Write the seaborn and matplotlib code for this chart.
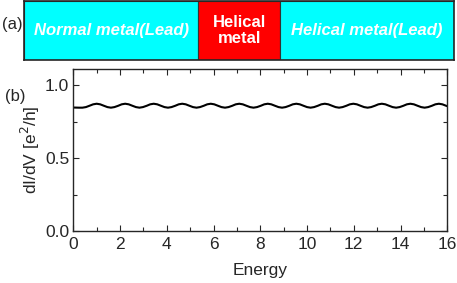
import matplotlib
matplotlib.use("Agg")
import matplotlib.pyplot as plt
import seaborn as sns
from matplotlib.patches import Rectangle
from matplotlib.ticker import MultipleLocator

sns.set_style("ticks")
plt.rcParams['font.family'] = ['Liberation Sans', 'DejaVu Sans']

# top schematic: region labels
regions = ["Normal metal(Lead)", "Helical\nmetal", "Helical metal(Lead)"]
region_colors = ["#00ffff", "#ff0000", "#00ffff"]
region_bounds = [0.0, 0.405, 0.596, 1.0]

# dI/dV vs energy
energy = [0.00, 0.24, 0.39, 0.54, 0.69, 0.85,
          1.00, 1.15, 1.31, 1.46, 1.61, 1.76, 1.92, 2.07,
          2.22, 2.37, 2.53, 2.68, 2.83, 2.98, 3.14, 3.29,
          3.44, 3.59, 3.75, 3.90, 4.05, 4.20, 4.36, 4.51,
          4.66, 4.81, 4.97, 5.12, 5.27, 5.42, 5.58, 5.73,
          5.88, 6.03, 6.19, 6.34, 6.49, 6.64, 6.80, 6.95,
          7.10, 7.25, 7.41, 7.56, 7.71, 7.86, 8.02, 8.17,
          8.32, 8.47, 8.63, 8.78, 8.93, 9.08, 9.24, 9.39,
          9.54, 9.69, 9.85, 10.00, 10.15, 10.30, 10.46, 10.61,
          10.76, 10.91, 11.07, 11.22, 11.37, 11.52, 11.68, 11.83,
          11.98, 12.13, 12.29, 12.44, 12.59, 12.74, 12.90, 13.05,
          13.20, 13.35, 13.51, 13.66, 13.81, 13.96, 14.12, 14.27,
          14.42, 14.57, 14.73, 14.88, 15.03, 15.18, 15.34, 15.49,
          15.64, 15.79, 15.95, 16.00]
didv = [0.846, 0.845, 0.845, 0.849, 0.858, 0.868,
        0.872, 0.868, 0.858, 0.849, 0.845, 0.849, 0.858, 0.868,
        0.872, 0.868, 0.858, 0.849, 0.845, 0.849, 0.858, 0.868,
        0.872, 0.868, 0.858, 0.849, 0.845, 0.849, 0.858, 0.868,
        0.872, 0.868, 0.858, 0.849, 0.845, 0.849, 0.858, 0.868,
        0.872, 0.868, 0.858, 0.849, 0.845, 0.849, 0.858, 0.868,
        0.872, 0.868, 0.858, 0.849, 0.845, 0.849, 0.858, 0.868,
        0.872, 0.868, 0.858, 0.849, 0.845, 0.849, 0.858, 0.868,
        0.872, 0.868, 0.858, 0.849, 0.845, 0.849, 0.858, 0.868,
        0.872, 0.868, 0.858, 0.849, 0.845, 0.849, 0.858, 0.868,
        0.872, 0.868, 0.858, 0.849, 0.845, 0.849, 0.858, 0.868,
        0.872, 0.868, 0.858, 0.849, 0.845, 0.849, 0.858, 0.868,
        0.872, 0.868, 0.858, 0.849, 0.845, 0.849, 0.858, 0.868,
        0.872, 0.868, 0.858, 0.855]

fig = plt.figure(figsize=(4.57, 2.83), dpi=100)

# (a) schematic
axa = fig.add_axes([24/457, 1 - 60/283, 430/457, 59/283])
for i, (lab, col) in enumerate(zip(regions, region_colors)):
    x0, x1 = region_bounds[i], region_bounds[i+1]
    axa.add_patch(Rectangle((x0, 0), x1 - x0, 1, facecolor=col,
                            edgecolor="#333333", lw=0.8))
    axa.text((x0 + x1) / 2, 0.5, lab, color="white", fontsize=12,
             fontweight="bold", style="normal" if i == 1 else "italic",
             ha="center", va="center", linespacing=1.05)
axa.set_xlim(0, 1)
axa.set_ylim(0, 1)
axa.set_xticks([])
axa.set_yticks([])
for s in axa.spines.values():
    s.set_linewidth(1.2)
fig.text(2/457, 1 - 25/283, "(a)", fontsize=12, va="center", ha="left")

# (b) dI/dV
axb = fig.add_axes([73.3/457, 1 - 231/283, 374/457, 162/283])
sns.lineplot(x=energy, y=didv, color="black", lw=1.5, ax=axb)
axb.set_xlim(0, 16)
axb.set_ylim(0, 1.11)
axb.xaxis.set_major_locator(MultipleLocator(2))
axb.xaxis.set_minor_locator(MultipleLocator(1))
axb.yaxis.set_major_locator(MultipleLocator(0.5))
axb.yaxis.set_minor_locator(MultipleLocator(0.25))
axb.set_yticks([0.0, 0.5, 1.0])
axb.set_yticklabels(["0.0", "0.5", "1.0"])
axb.tick_params(which="both", direction="in", top=True, right=True,
                labelsize=12.5, width=0.8, pad=3)
axb.tick_params(axis="x", which="major", pad=4)
axb.tick_params(which="major", length=4)
axb.tick_params(which="minor", length=3)
for s in axb.spines.values():
    s.set_linewidth(1.0)
axb.set_xlabel("Energy", fontsize=12.5, labelpad=8)
axb.set_ylabel("dI/dV [e$^2$/h]", fontsize=12.5, labelpad=2)
fig.text(5/457, 1 - 97/283, "(b)", fontsize=12, va="center", ha="left")

fig.savefig("out.png", dpi=100)
